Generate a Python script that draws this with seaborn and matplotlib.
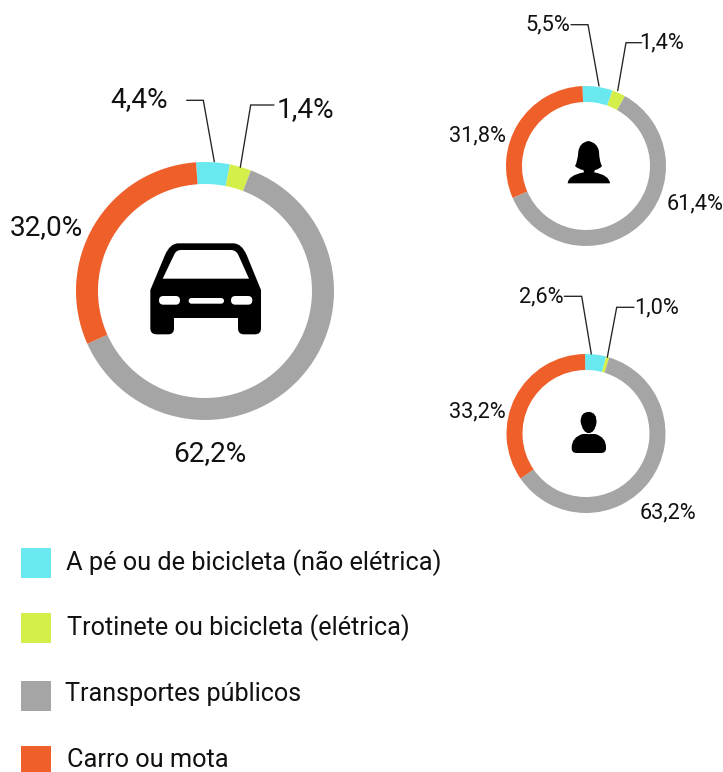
import matplotlib
matplotlib.use("Agg")
import matplotlib.pyplot as plt
from matplotlib.patches import PathPatch, Rectangle, FancyBboxPatch
from matplotlib.path import Path
import seaborn as sns

sns.set_theme(style="white")
plt.rcParams['font.family'] = ['Roboto', 'DejaVu Sans']

W, H = 723, 772
categories = ["A pé ou de bicicleta (não elétrica)", "Trotinete ou bicicleta (elétrica)",
              "Transportes públicos", "Carro ou mota"]
colors = ["#69E9EF", "#D4EE4A", "#A5A5A5", "#EE5F2A"]
palette = sns.color_palette(colors)

# Printed labels
total_labels = ["4,4%", "1,4%", "62,2%", "32,0%"]
women_labels = ["5,5%", "1,4%", "61,4%", "31,8%"]
men_labels = ["2,6%", "1,0%", "63,2%", "33,2%"]
# Arc shares as actually drawn in the picture (they differ slightly from the printed labels)
total_values = [4.2, 2.7, 62.5, 30.6]
women_values = [6.1, 2.7, 60.4, 30.8]
men_values = [4.25, 0.67, 60.7, 34.4]

fig = plt.figure(figsize=(W / 100, H / 100), dpi=100, facecolor="white")

def donut(values, cx, cy, r, width, start):
    ax = fig.add_axes([(cx - r - 1) / W, 1 - (cy + r + 1) / H, (2 * r + 2) / W, (2 * r + 2) / H])
    ax.pie(values, colors=palette, startangle=start, counterclock=False, radius=1,
           wedgeprops=dict(width=width / r, linewidth=0))
    ax.set_xlim(-(r + 1) / r, (r + 1) / r)
    ax.set_ylim(-(r + 1) / r, (r + 1) / r)
    ax.set_aspect("equal")
    ax.axis("off")

donut(total_values, 205, 291, 129, 22, 94)
donut(women_values, 586, 166, 80, 16, 92.6)
donut(men_values, 586, 433.5, 79.5, 16, 90.7)

ov = fig.add_axes([0, 0, 1, 1], zorder=5)
ov.set_xlim(0, W)
ov.set_ylim(H, 0)
ov.axis("off")
ov.patch.set_alpha(0)

for pts in [
    [(186.7, 100.3), (203.3, 100.3), (214.3, 161.7)],
    [(274, 105), (250.7, 105), (240.3, 167.3)],
    [(571, 24.7), (588, 24.7), (599, 86)],
    [(641.7, 42.7), (626, 42.7), (617.7, 90.7)],
    [(564.3, 296.3), (581.7, 296.3), (591.3, 354)],
    [(634, 307.3), (616.7, 307.3), (607.3, 357.3)],
]:
    ov.plot(*zip(*pts), color="#222222", lw=0.95, solid_joinstyle="miter")

BIG, SMALL = 20.2, 15.7
label_places = [
    (total_labels, BIG, [(139.5, 100), (305, 110), (209.5, 454), (46, 228)]),
    (women_labels, SMALL, [(548, 24.5), (662, 42.5), (695, 203.5), (477, 135.5)]),
    (men_labels, SMALL, [(541, 296.5), (657, 307.5), (668, 512.5), (477, 411.5)]),
]
for labels, fs, places in label_places:
    for s, (x, y) in zip(labels, places):
        ov.text(x, y, s, fontsize=fs, color="#111111", ha="center", va="center")

# legend
for cat, col, y0, y1, tx, ty, fs in zip(categories, palette, [548, 613, 681, 746], [578, 643, 711, 772],
                                        [66, 67, 65, 67], [563, 628, 694, 760], [18.25, 18.15, 18.1, 18.25]):
    ov.add_patch(Rectangle((21, y0), 30, y1 - y0, facecolor=col, edgecolor="none"))
    ov.text(tx, ty, cat, fontsize=fs, color="#111111", ha="left", va="center")

# icons
def shape(pts, color="black", zo=6, ec="none", lw=0):
    verts, codes = [], []
    for i, p in enumerate(pts):
        if len(p) == 2:
            verts.append(p)
            codes.append(Path.MOVETO if i == 0 else Path.LINETO)
        else:
            verts += [(p[0], p[1]), (p[2], p[3])]
            codes += [Path.CURVE3, Path.CURVE3]
    verts.append(pts[0][:2])
    codes.append(Path.CLOSEPOLY)
    ov.add_patch(PathPatch(Path(verts, codes), facecolor=color, edgecolor=ec, linewidth=lw, zorder=zo))

def conv(lst, fn):
    return [tuple(v for i in range(0, len(p), 2) for v in fn(p[i], p[i + 1])) for p in lst]

cz = lambda x, y: (100 + x / 3, 80 + y / 3)
shape(conv([(235, 490), (400, 490), (425, 490, 440, 525), (483, 630), (483, 745), (483, 763, 465, 763),
            (432, 763), (414, 763, 414, 745), (414, 714), (222, 714), (222, 745), (222, 763, 205, 763),
            (170, 763), (151, 763, 151, 745), (151, 630), (195, 525), (210, 490, 235, 490)], cz))
shape(conv([(188, 596), (222, 525), (228, 510, 243, 510), (393, 510), (408, 510, 415, 525), (447, 596)], cz),
      color="white", zo=7)
for x0, y0, x1, y1 in [(177, 648, 240, 674), (266, 654, 372, 671), (393, 648, 457, 674)]:
    a, b = cz(x0, y0), cz(x1, y1)
    rad = (b[1] - a[1]) / 2
    ov.add_patch(FancyBboxPatch((a[0] + rad, a[1] + rad), b[0] - a[0] - 2 * rad, 0.01,
                                boxstyle=f"round,pad={rad}", facecolor="white", edgecolor="none", zorder=7))

wz = lambda x, y: (500 + x / 3, y / 3)
woman = [(265, 423), (238, 428, 235, 455), (233, 485, 225, 498), (235, 508, 250, 510), (252, 517),
         (205, 525, 203, 550), (330, 550), (328, 525, 282, 517), (285, 510), (298, 508, 306, 498),
         (298, 485, 297, 455), (293, 428, 265, 423)]
shape(conv(woman, wz))

mz = lambda x, y: (500 + x / 3, 280 + y / 3)
torso = [(215, 505), (214, 472, 248, 462), (286, 462), (320, 472, 318, 505),
         (318, 519, 303, 519), (230, 519), (215, 519, 215, 505)]
shape(conv(torso, mz))
head = [(240, 425), (240, 394, 267, 394), (294, 396, 291, 430), (285, 461, 266, 461), (247, 461, 240, 425)]
shape(conv(head, mz), zo=7, ec="white", lw=0.8)

fig.savefig("out.png", dpi=100, facecolor="white")
